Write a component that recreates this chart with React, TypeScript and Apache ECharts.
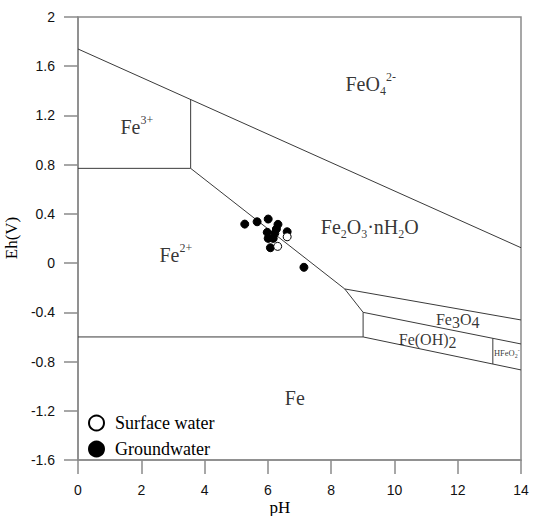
import React, { useEffect, useRef } from "react";
import * as echarts from "echarts";

const SERIF = '"Liberation Serif", "Times New Roman", serif';
const SANS = '"Liberation Sans", Arial, sans-serif';

// axis ranges
const phMin = 0;
const phMax = 14;
const phStep = 2;
const ehMin = -1.6;
const ehMax = 2;
const ehStep = 0.4;

// sample points [pH, Eh]
const groundwater: number[][] = [
  [5.27, 0.317],
  [5.66, 0.336],
  [6.01, 0.358],
  [6.32, 0.315],
  [6.27, 0.277],
  [6.61, 0.255],
  [5.98, 0.25],
  [6.01, 0.201],
  [6.17, 0.201],
  [6.22, 0.242],
  [6.08, 0.125],
  [7.14, -0.034],
];
const surfaceWater: number[][] = [
  [6.61, 0.214],
  [6.31, 0.136],
];

// stability field boundaries [pH, Eh]
const feo4Boundary = [[0, 1.74], [14, 0.125]];
const fe3Fe2Boundary = [[0, 0.77], [3.56, 0.77]];
const fe3OxideBoundary = [[3.56, 0.77], [3.56, 1.33]];
const fe2OxideBoundary = [[3.56, 0.77], [8.43, -0.21], [9.01, -0.4]];
const fe2HydroxideBoundary = [[9.01, -0.4], [9.01, -0.6]];
const fe2FeBoundary = [[0, -0.6], [9.01, -0.6]];
const oxideMagnetiteBoundary = [[8.43, -0.21], [14, -0.462]];
const magnetiteHydroxideBoundary = [[9.01, -0.4], [14, -0.657]];
const hydroxideFeBoundary = [[9.01, -0.6], [14, -0.868]];
const hfeo2Boundary = [[13.11, -0.611], [13.11, -0.82]];

const boundaries = [
  feo4Boundary,
  fe3Fe2Boundary,
  fe3OxideBoundary,
  fe2OxideBoundary,
  fe2HydroxideBoundary,
  fe2FeBoundary,
  oxideMagnetiteBoundary,
  magnetiteHydroxideBoundary,
  hydroxideFeBoundary,
  hfeo2Boundary,
];

// field labels: anchor [pH, Eh], rich text, style group
const fieldLabelPositions = [
  [1.86, 1.105],
  [9.25, 1.454],
  [9.22, 0.293],
  [3.09, 0.066],
  [12.0, -0.462],
  [11.05, -0.62],
  [13.55, -0.728],
  [6.85, -1.095],
];
const fieldLabelTexts = [
  "{m|Fe}{sup|3+}",
  "{m|FeO}{sub|4}{sup|2-}",
  "{m|Fe}{sub|2}{m|O}{sub|3}{m|·nH}{sub|2}{m|O}",
  "{m|Fe}{sup|2+}",
  "{m|Fe}{sub|3}{m|O}{sub|4}",
  "{m|Fe(OH)}{sub|2}",
  "{m|HFeO}{sub|2}{sup|-}",
  "{m|Fe}",
];
const fieldLabelStyles = ["big", "big", "big", "big", "mid", "mid", "tiny", "big"];

const richStyles: Record<string, any> = {
  big: {
    m: { fontSize: 20, fontFamily: SERIF, color: "#000", lineHeight: 26 },
    sup: { fontSize: 12, fontFamily: SERIF, color: "#000", lineHeight: 16, verticalAlign: "top" },
    sub: { fontSize: 12, fontFamily: SERIF, color: "#000", lineHeight: 16, verticalAlign: "bottom" },
  },
  mid: {
    m: { fontSize: 16, fontFamily: SERIF, color: "#000", lineHeight: 22 },
    sub: { fontSize: 16, fontFamily: SERIF, color: "#000", lineHeight: 12, verticalAlign: "bottom" },
  },
  tiny: {
    m: { fontSize: 8.5, fontFamily: SERIF, color: "#000", lineHeight: 12 },
    sub: { fontSize: 6, fontFamily: SERIF, color: "#000", lineHeight: 7, verticalAlign: "bottom" },
    sup: { fontSize: 6, fontFamily: SERIF, color: "#000", lineHeight: 7, verticalAlign: "top" },
  },
};

const AXIS_COLOR = "#8a8a8a";
const LINE_COLOR = "#3a3a3a";

export default function App() {
  const ref = useRef<HTMLDivElement>(null);

  useEffect(() => {
    if (!ref.current) return;
    const chart = echarts.init(ref.current, undefined, { renderer: "svg" });

    const fmt = (v: number) => String(Number(v.toFixed(1)));

    const lineSeries = boundaries.map((pts, i) => ({
      type: "line",
      name: "boundary" + i,
      data: pts,
      symbol: "none",
      silent: true,
      lineStyle: { color: LINE_COLOR, width: 1 },
      z: 2,
    }));

    chart.setOption({
      animation: false,
      grid: {
        left: 78,
        right: 14,
        top: 17,
        bottom: 56,
        show: true,
        borderColor: AXIS_COLOR,
        borderWidth: 1.5,
      },
      xAxis: {
        type: "value",
        min: phMin,
        max: phMax,
        interval: phStep,
        axisLine: { show: true, onZero: false, lineStyle: { color: AXIS_COLOR, width: 1.5 } },
        axisTick: { show: true, length: 14, lineStyle: { color: AXIS_COLOR, width: 1.5 } },
        axisLabel: { margin: 23, color: "#111", fontSize: 14, fontFamily: SANS },
        splitLine: { show: false },
      },
      yAxis: {
        type: "value",
        min: ehMin,
        max: ehMax,
        interval: ehStep,
        axisLine: { show: true, onZero: false, lineStyle: { color: AXIS_COLOR, width: 1.5 } },
        axisTick: { show: true, length: 14, lineStyle: { color: AXIS_COLOR, width: 1.5 } },
        axisLabel: { margin: 23, color: "#111", fontSize: 14, fontFamily: SANS, formatter: fmt },
        splitLine: { show: false },
      },
      legend: {
        show: true,
        orient: "vertical",
        left: 88,
        top: 414,
        padding: 0,
        itemGap: 8,
        itemWidth: 15,
        itemHeight: 15,
        data: ["Surface water", "Groundwater"],
        textStyle: { fontFamily: SERIF, fontSize: 18, color: "#000", padding: [0, 0, 0, 6] },
      },
      graphic: [
        {
          type: "text",
          x: 280,
          y: 507,
          style: {
            text: "pH",
            font: `17px ${SERIF}`,
            fill: "#000",
            textAlign: "center",
            textVerticalAlign: "middle",
          },
        },
        {
          type: "text",
          x: 11,
          y: 238,
          rotation: Math.PI / 2,
          style: {
            text: "Eh(V)",
            font: `17px ${SERIF}`,
            fill: "#000",
            textAlign: "center",
            textVerticalAlign: "middle",
          },
        },
      ],
      series: [
        ...lineSeries,
        {
          type: "scatter",
          name: "Surface water",
          data: surfaceWater,
          symbol: "circle",
          symbolSize: 8,
          itemStyle: { color: "#fff", borderColor: "#000", borderWidth: 1, opacity: 1 },
          z: 5,
        },
        {
          type: "scatter",
          name: "Groundwater",
          data: groundwater,
          symbol: "circle",
          symbolSize: 8,
          itemStyle: { color: "#000", borderColor: "#000", borderWidth: 1, opacity: 1 },
          z: 4,
        },
        {
          type: "scatter",
          name: "fieldLabels",
          silent: true,
          symbolSize: 0,
          itemStyle: { color: "transparent" },
          z: 6,
          data: fieldLabelPositions.map((p, i) => ({
            value: p,
            label: {
              show: true,
              position: "inside",
              formatter: fieldLabelTexts[i],
              rich: richStyles[fieldLabelStyles[i]],
            },
          })),
        },
      ],
    });

    return () => chart.dispose();
  }, []);

  return (
    <div
      ref={ref}
      style={{ position: "fixed", left: 0, top: 0, width: 535, height: 516, background: "#fff" }}
    />
  );
}
